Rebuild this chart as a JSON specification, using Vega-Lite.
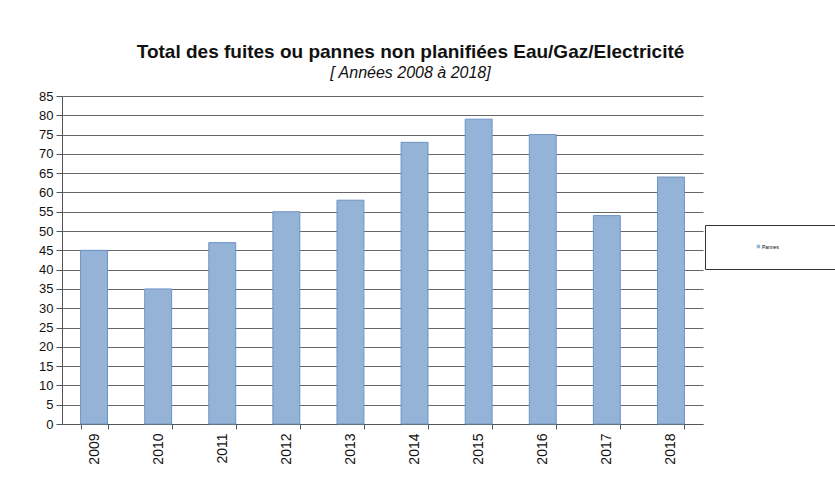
{
  "$schema": "https://vega.github.io/schema/vega-lite/v6.json",
  "autosize": {"type": "none"},
  "width": 641,
  "height": 328,
  "padding": {"left": 62, "top": 96, "right": 132, "bottom": 56},
  "background": "white",
  "title": {
    "text": "Total des fuites ou pannes non planifiées Eau/Gaz/Electricité",
    "subtitle": "[ Années 2008 à 2018]",
    "font": "Liberation Sans",
    "fontSize": 19,
    "fontWeight": "bold",
    "color": "#111",
    "subtitleFont": "Liberation Sans",
    "subtitleFontSize": 16,
    "subtitleFontStyle": "italic",
    "subtitleColor": "#111",
    "subtitlePadding": 3,
    "anchor": "middle",
    "dx": 28,
    "offset": 9
  },
  "data": {
    "values": [
      {"annee": "2009", "valeur": 45, "serie": "Pannes"},
      {"annee": "2010", "valeur": 35, "serie": "Pannes"},
      {"annee": "2011", "valeur": 47, "serie": "Pannes"},
      {"annee": "2012", "valeur": 55, "serie": "Pannes"},
      {"annee": "2013", "valeur": 58, "serie": "Pannes"},
      {"annee": "2014", "valeur": 73, "serie": "Pannes"},
      {"annee": "2015", "valeur": 79, "serie": "Pannes"},
      {"annee": "2016", "valeur": 75, "serie": "Pannes"},
      {"annee": "2017", "valeur": 54, "serie": "Pannes"},
      {"annee": "2018", "valeur": 64, "serie": "Pannes"}
    ]
  },
  "mark": {"type": "bar", "stroke": "#6f93c4", "strokeWidth": 1},
  "encoding": {
    "x": {
      "field": "annee",
      "type": "ordinal",
      "scale": {"paddingInner": 0.58, "paddingOuter": 0.29},
      "axis": {
        "title": null,
        "labelAngle": -90,
        "labelAlign": "right",
        "labelBaseline": "middle",
        "labelFont": "Liberation Sans",
        "labelFontSize": 14,
        "labelColor": "#111",
        "labelPadding": 4,
        "tickBand": "extent",
        "tickColor": "#555",
        "tickSize": 5,
        "domainColor": "#555",
        "grid": false
      }
    },
    "y": {
      "field": "valeur",
      "type": "quantitative",
      "scale": {"domain": [0, 85], "nice": false},
      "axis": {
        "title": null,
        "values": [0, 5, 10, 15, 20, 25, 30, 35, 40, 45, 50, 55, 60, 65, 70, 75, 80, 85],
        "labelFont": "Liberation Sans",
        "labelFontSize": 13,
        "labelColor": "#111",
        "labelPadding": 3,
        "tickColor": "#555",
        "tickSize": 6,
        "domainColor": "#555",
        "grid": true,
        "gridColor": "#666",
        "gridWidth": 1
      }
    },
    "color": {
      "field": "serie",
      "type": "nominal",
      "scale": {"range": ["#95b3d7"]},
      "legend": {
        "title": null,
        "orient": "none",
        "legendX": 643,
        "legendY": 129,
        "strokeColor": "#333",
        "padding": 19,
        "labelFontSize": 5,
        "labelLimit": 500,
        "labelFont": "Liberation Sans, DejaVu Sans",
        "labelExpr": "datum.label + '\u2800\u2800\u2800\u2800\u2800\u2800\u2800\u2800\u2800\u2800\u2800\u2800'",
        "symbolOffset": 32,
        "symbolType": "square",
        "symbolSize": 12,
        "symbolStrokeWidth": 0,
        "labelOffset": 1,
        "offset": 0
      }
    }
  },
  "config": {"view": {"stroke": null}}
}
